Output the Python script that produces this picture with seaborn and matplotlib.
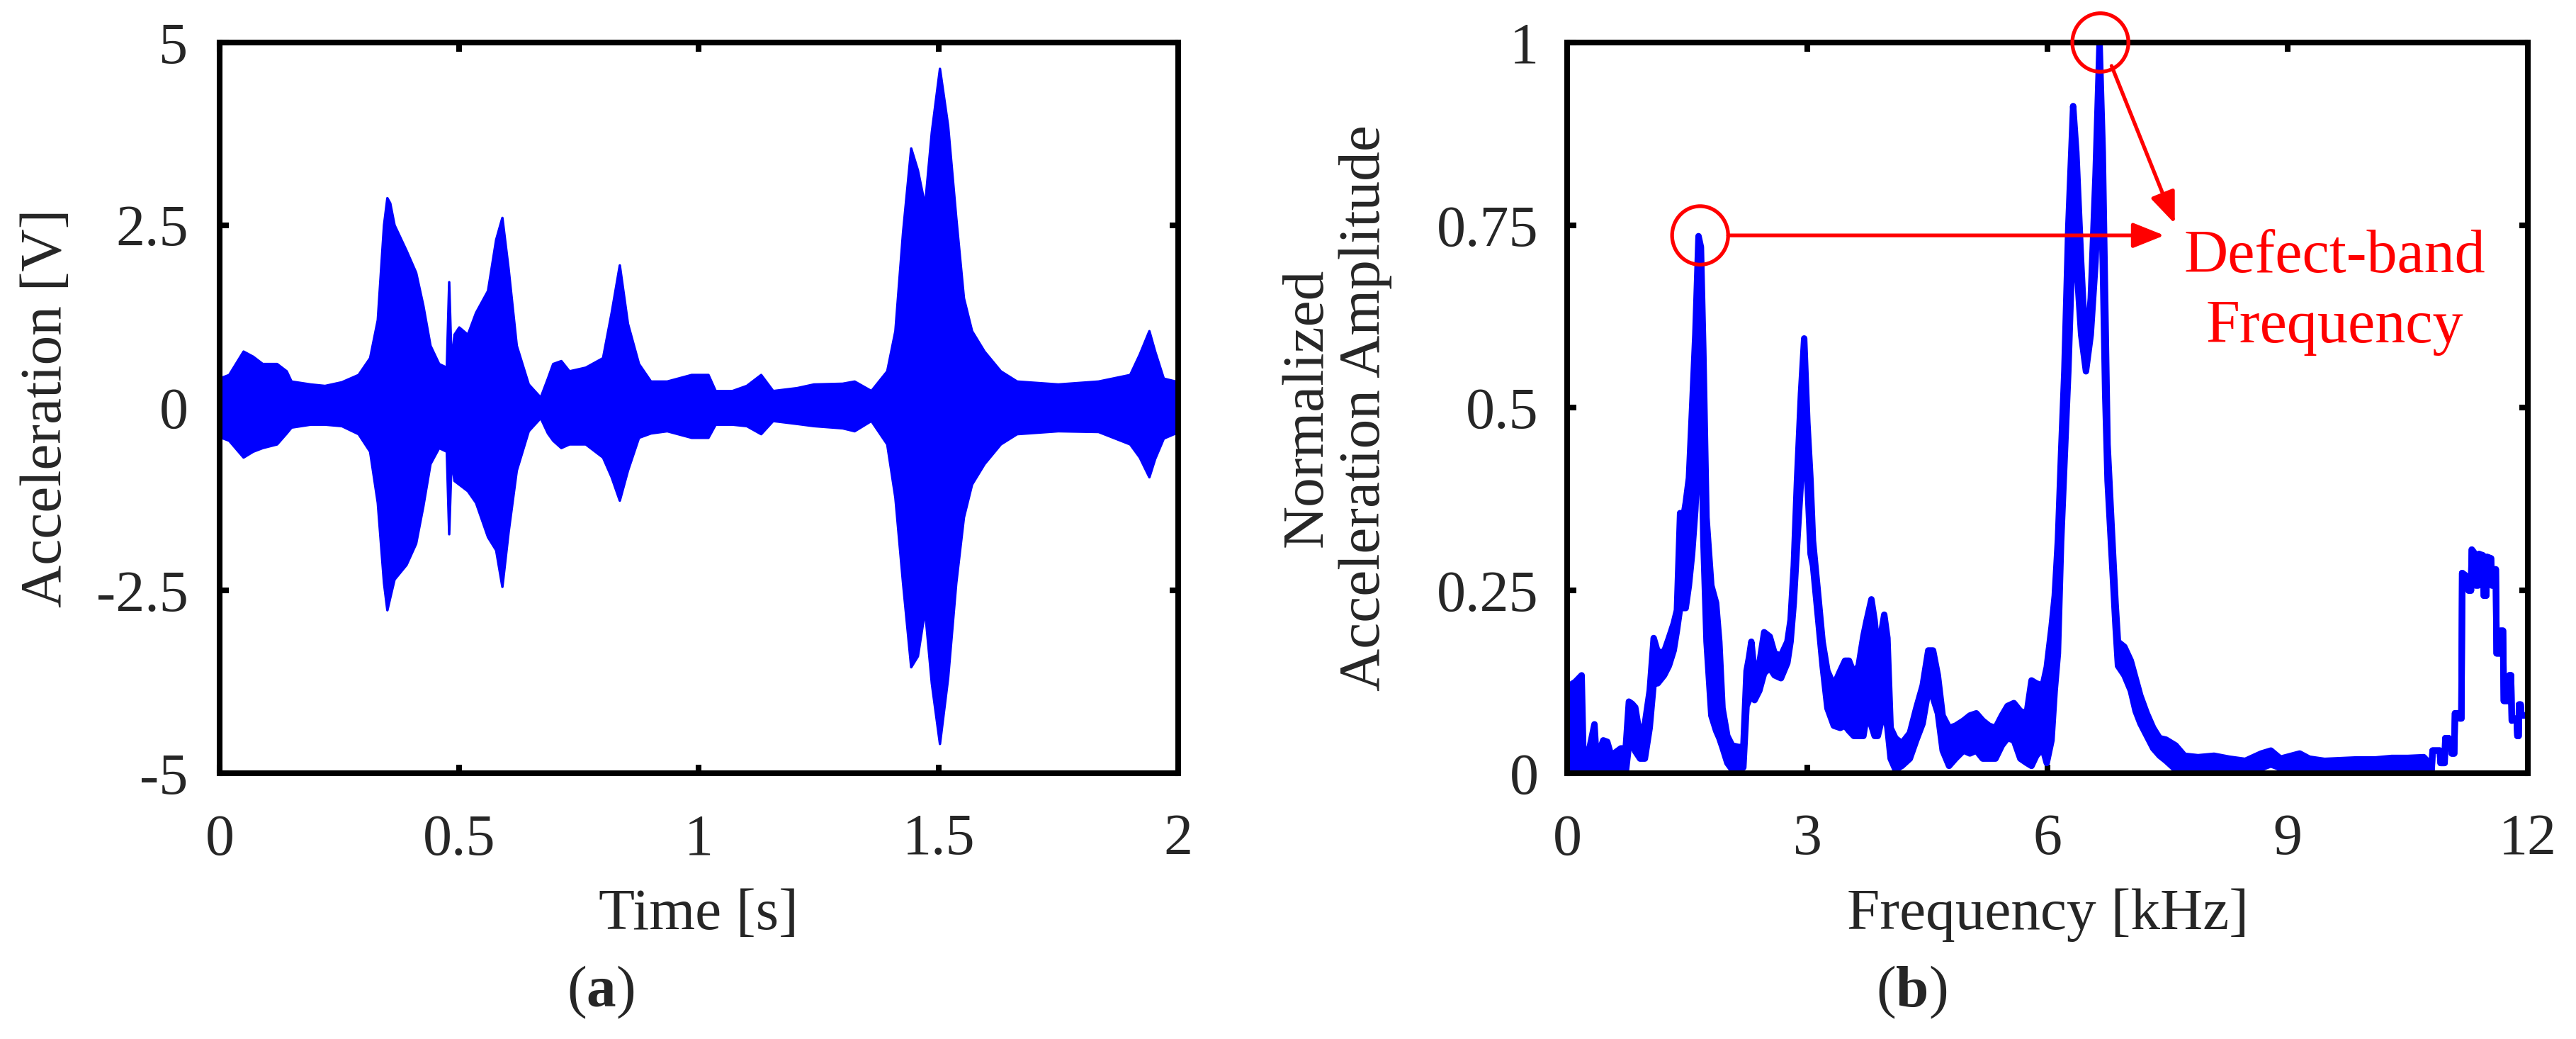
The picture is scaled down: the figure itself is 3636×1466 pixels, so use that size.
import numpy as np
import matplotlib
matplotlib.use("Agg")
import matplotlib.pyplot as plt
from matplotlib import font_manager
import seaborn as sns
from matplotlib.patches import Ellipse

# ---------------- data ----------------
# (a) vibration signal: envelope of the dense acceleration trace
time_s = [0.000, 0.02, 0.05, 0.07, 0.09, 0.12, 0.14, 0.15, 0.19, 0.22, 0.255, 0.29,
          0.314, 0.33, 0.343, 0.350, 0.356, 0.365, 0.39, 0.41, 0.425, 0.44, 0.458,
          0.474, 0.479, 0.484, 0.49, 0.50, 0.518, 0.535, 0.56, 0.577, 0.590, 0.603,
          0.62, 0.645, 0.67, 0.685, 0.696, 0.713, 0.73, 0.764, 0.80, 0.818, 0.835,
          0.852, 0.875, 0.90, 0.934, 0.985, 1.02, 1.035, 1.07, 1.10, 1.13, 1.155,
          1.205, 1.24, 1.30, 1.325, 1.36, 1.393, 1.41, 1.426, 1.443, 1.457, 1.472,
          1.486, 1.503, 1.52, 1.537, 1.553, 1.57, 1.596, 1.63, 1.664, 1.75, 1.834,
          1.90, 1.92, 1.94, 1.952, 1.97, 1.995]
accel_upper = [0.40, 0.45, 0.77, 0.70, 0.60, 0.60, 0.50, 0.36, 0.32, 0.30, 0.35, 0.45,
               0.68, 1.20, 2.50, 2.87, 2.80, 2.50, 2.15, 1.85, 1.40, 0.85, 0.60,
               0.55, 1.72, 0.60, 1.00, 1.10, 1.00, 1.30, 1.60, 2.30, 2.60, 1.90,
               0.85, 0.32, 0.14, 0.40, 0.60, 0.64, 0.50, 0.55, 0.68, 1.30, 1.95,
               1.15, 0.60, 0.36, 0.36, 0.45, 0.45, 0.23, 0.23, 0.30, 0.45, 0.23,
               0.27, 0.32, 0.33, 0.36, 0.23, 0.50, 1.05, 2.40, 3.55, 3.25, 2.77,
               3.77, 4.64, 3.86, 2.60, 1.50, 1.05, 0.77, 0.50, 0.36, 0.32, 0.36,
               0.45, 0.73, 1.05, 0.77, 0.40, 0.36]
accel_lower = [-0.40, -0.45, -0.68, -0.60, -0.55, -0.50, -0.35, -0.27, -0.23, -0.23, -0.25, -0.36,
               -0.60, -1.30, -2.40, -2.77, -2.60, -2.35, -2.15, -1.86, -1.35, -0.77, -0.55,
               -0.60, -1.73, -0.70, -1.00, -1.05, -1.14, -1.30, -1.77, -1.95, -2.45, -1.70,
               -0.86, -0.32, -0.14, -0.35, -0.45, -0.55, -0.50, -0.50, -0.68, -0.95, -1.27,
               -0.86, -0.41, -0.35, -0.32, -0.41, -0.41, -0.23, -0.23, -0.25, -0.36, -0.18,
               -0.22, -0.25, -0.28, -0.32, -0.18, -0.50, -1.23, -2.40, -3.55, -3.40, -2.77,
               -3.77, -4.60, -3.70, -2.40, -1.50, -1.05, -0.77, -0.50, -0.36, -0.32, -0.33,
               -0.50, -0.68, -0.95, -0.70, -0.42, -0.35]

# (b) normalized spectrum: upper / lower edge of the plotted trace
freq_khz = [0.00, 0.03, 0.10, 0.18, 0.20, 0.27, 0.34, 0.36, 0.40, 0.45, 0.50, 0.55,
            0.62, 0.67, 0.73, 0.77, 0.81, 0.85, 0.91, 0.97, 1.03, 1.08, 1.13, 1.21,
            1.27, 1.33, 1.37, 1.41, 1.45, 1.48, 1.52, 1.56, 1.60, 1.64, 1.67, 1.70,
            1.74, 1.80, 1.86, 1.90, 1.94, 2.00, 2.06, 2.14, 2.20, 2.24, 2.27, 2.30,
            2.34, 2.40, 2.46, 2.53, 2.59, 2.67, 2.75, 2.79, 2.83, 2.87, 2.92, 2.96,
            3.00, 3.04, 3.07, 3.13, 3.19, 3.25, 3.33, 3.41, 3.47, 3.52, 3.58, 3.64,
            3.70, 3.74, 3.80, 3.84, 3.88, 3.96, 4.00, 4.04, 4.10, 4.18, 4.28, 4.36,
            4.44, 4.51, 4.57, 4.63, 4.69, 4.77, 4.85, 4.95, 5.03, 5.11, 5.19, 5.27,
            5.35, 5.43, 5.50, 5.58, 5.66, 5.74, 5.80, 5.86, 5.94, 5.99, 6.05, 6.09,
            6.13, 6.17, 6.21, 6.26, 6.32, 6.36, 6.42, 6.48, 6.54, 6.60, 6.65, 6.69,
            6.72, 6.75, 6.80, 6.85, 6.88, 6.96, 7.04, 7.10, 7.16, 7.24, 7.32, 7.40,
            7.48, 7.60, 7.71, 7.88, 8.08, 8.27, 8.47, 8.67, 8.79, 8.91, 9.15, 9.27,
            9.46, 9.86, 10.10, 10.30, 10.50, 10.70, 10.80, 10.81, 10.90, 10.91, 10.96,
            10.97, 11.01, 11.02, 11.04, 11.05, 11.08, 11.09, 11.14, 11.15, 11.17, 11.18,
            11.24, 11.26, 11.29, 11.30, 11.34, 11.35, 11.38, 11.39, 11.44, 11.45, 11.48,
            11.49, 11.54, 11.55, 11.57, 11.58, 11.60, 11.61, 11.65, 11.66, 11.69, 11.70,
            11.76, 11.77, 11.79, 11.80, 11.86, 11.87, 11.885, 11.89, 11.91, 11.92, 11.96]
amp_upper = [0.100, 0.120, 0.125, 0.134, 0.034, 0.030, 0.067, 0.030, 0.030, 0.045, 0.043, 0.024,
             0.030, 0.034, 0.034, 0.098, 0.095, 0.090, 0.050, 0.068, 0.113, 0.185, 0.166, 0.166,
             0.185, 0.205, 0.223, 0.356, 0.350, 0.370, 0.404, 0.500, 0.600, 0.735, 0.720, 0.580,
             0.350, 0.257, 0.233, 0.180, 0.089, 0.051, 0.038, 0.036, 0.036, 0.140, 0.158, 0.180,
             0.137, 0.150, 0.193, 0.187, 0.164, 0.161, 0.180, 0.210, 0.284, 0.400, 0.520, 0.595,
             0.480, 0.400, 0.318, 0.250, 0.180, 0.140, 0.120, 0.140, 0.154, 0.154, 0.137, 0.147,
             0.188, 0.209, 0.238, 0.209, 0.164, 0.217, 0.185, 0.062, 0.048, 0.041, 0.055, 0.089,
             0.120, 0.168, 0.168, 0.134, 0.079, 0.062, 0.065, 0.072, 0.079, 0.082, 0.072, 0.065,
             0.062, 0.079, 0.092, 0.096, 0.085, 0.082, 0.127, 0.123, 0.120, 0.145, 0.200, 0.243,
             0.320, 0.440, 0.550, 0.750, 0.913, 0.850, 0.700, 0.570, 0.650, 0.820, 1.000, 0.850,
             0.650, 0.450, 0.340, 0.233, 0.180, 0.173, 0.154, 0.130, 0.106, 0.082, 0.062, 0.048,
             0.046, 0.038, 0.024, 0.022, 0.024, 0.020, 0.017, 0.027, 0.031, 0.020, 0.027, 0.020,
             0.017, 0.019, 0.019, 0.021, 0.021, 0.022, 0.010, 0.031, 0.031, 0.014, 0.014,
             0.048, 0.048, 0.038, 0.038, 0.027, 0.027, 0.082, 0.082, 0.075, 0.075, 0.274,
             0.269, 0.250, 0.250, 0.306, 0.300, 0.257, 0.257, 0.300, 0.298, 0.243, 0.243,
             0.296, 0.294, 0.257, 0.257, 0.279, 0.279, 0.164, 0.164, 0.195, 0.195, 0.099,
             0.099, 0.134, 0.134, 0.072, 0.075, 0.051, 0.051, 0.094, 0.094, 0.079, 0.079]
amp_lower = [0.000, 0.000, 0.000, 0.000, 0.000, 0.000, 0.000, 0.000, 0.000, 0.000, 0.000, 0.000,
             0.000, 0.000, 0.000, 0.038, 0.040, 0.030, 0.020, 0.020, 0.062, 0.123, 0.123, 0.134,
             0.147, 0.168, 0.195, 0.226, 0.226, 0.226, 0.257, 0.300, 0.360, 0.450, 0.500, 0.320,
             0.180, 0.079, 0.058, 0.048, 0.035, 0.014, 0.005, 0.005, 0.008, 0.092, 0.100, 0.140,
             0.100, 0.113, 0.137, 0.144, 0.134, 0.130, 0.151, 0.180, 0.233, 0.310, 0.400, 0.500,
             0.400, 0.300, 0.284, 0.216, 0.147, 0.089, 0.065, 0.062, 0.065, 0.058, 0.051, 0.051,
             0.051, 0.079, 0.065, 0.051, 0.051, 0.089, 0.062, 0.020, 0.005, 0.010, 0.020, 0.045,
             0.068, 0.113, 0.103, 0.082, 0.031, 0.010, 0.020, 0.031, 0.027, 0.031, 0.020, 0.020,
             0.020, 0.038, 0.048, 0.045, 0.020, 0.014, 0.010, 0.024, 0.034, 0.014, 0.045, 0.113,
             0.164, 0.317, 0.420, 0.550, 0.750, 0.700, 0.600, 0.550, 0.600, 0.700, 0.850, 0.700,
             0.520, 0.400, 0.300, 0.200, 0.147, 0.134, 0.113, 0.085, 0.068, 0.051, 0.034, 0.024,
             0.017, 0.005, 0.005, 0.007, 0.007, 0.007, 0.007, 0.007, 0.012, 0.007, 0.007, 0.007,
             0.007, 0.005, 0.005, 0.005, 0.005, 0.005, 0.005, 0.031, 0.031, 0.014, 0.014,
             0.048, 0.048, 0.038, 0.038, 0.027, 0.027, 0.082, 0.082, 0.075, 0.075, 0.274,
             0.269, 0.250, 0.250, 0.306, 0.300, 0.257, 0.257, 0.300, 0.298, 0.243, 0.243,
             0.296, 0.294, 0.257, 0.257, 0.279, 0.279, 0.164, 0.164, 0.195, 0.195, 0.099,
             0.099, 0.134, 0.134, 0.072, 0.075, 0.051, 0.051, 0.094, 0.094, 0.079, 0.079]

time_ticks = [0, 0.5, 1, 1.5, 2]
time_ticklabels = ["0", "0.5", "1", "1.5", "2"]
accel_ticks = [-5, -2.5, 0, 2.5, 5]
accel_ticklabels = ["-5", "-2.5", "0", "2.5", "5"]
freq_ticks = [0, 3, 6, 9, 12]
freq_ticklabels = ["0", "3", "6", "9", "12"]
amp_ticks = [0, 0.25, 0.5, 0.75, 1]
amp_ticklabels = ["0", "0.25", "0.5", "0.75", "1"]

# annotated peaks (kHz, amplitude)
peak_small = (1.66, 0.736)
peak_main = (6.66, 1.0)

# ---------------- style ----------------
sns.set_theme(style="ticks")
# make sure the serif family really exists (raises otherwise)
font_manager.findfont(font_manager.FontProperties(family="Liberation Serif"),
                      fallback_to_default=False)
plt.rcParams["font.family"] = ["Liberation Serif", "DejaVu Serif"]
plt.rcParams["axes.unicode_minus"] = False
plt.rcParams["mathtext.fontset"] = "custom"
plt.rcParams["mathtext.rm"] = "Liberation Serif"
plt.rcParams["mathtext.bf"] = "Liberation Serif:bold"

FS = 60
TXT = "#262626"
BLUE = "#0000FF"
RED = "#FF0000"

fig = plt.figure(figsize=(36.36, 14.66), dpi=100)
axL = fig.add_axes([0.08526, 0.2558, 0.3721, 0.7033])
axR = fig.add_axes([0.6084, 0.2558, 0.3729, 0.7033])

# ---------------- (a) ----------------
axL.fill_between(time_s, accel_lower, accel_upper, color=BLUE, lw=0)
sns.lineplot(x=time_s, y=accel_upper, ax=axL, color=BLUE, lw=2.5,
             estimator=None, sort=False)
sns.lineplot(x=time_s, y=accel_lower, ax=axL, color=BLUE, lw=2.5,
             estimator=None, sort=False)
axL.set_xlim(0, 2)
axL.set_ylim(-5, 5)
axL.set_xticks(time_ticks, time_ticklabels)
axL.set_yticks(accel_ticks, accel_ticklabels)
axL.set_xlabel("Time [s]", fontsize=FS, color=TXT, va="top")
axL.xaxis.set_label_coords(0.5, -0.158)
axL.set_ylabel("Acceleration [V]", fontsize=FS, color=TXT, va="center")
axL.yaxis.set_label_coords(-0.180, 0.5)

# ---------------- (b) ----------------
axR.fill_between(freq_khz, amp_lower, amp_upper, color=BLUE, lw=0)
sns.lineplot(x=freq_khz, y=amp_upper, ax=axR, color=BLUE, lw=6.5,
             estimator=None, sort=False)
sns.lineplot(x=freq_khz, y=amp_lower, ax=axR, color=BLUE, lw=6.5,
             estimator=None, sort=False)
axR.set_xlim(0, 12)
axR.set_ylim(0, 1)
axR.set_xticks(freq_ticks, freq_ticklabels)
axR.set_yticks(amp_ticks, amp_ticklabels)
axR.set_xlabel("Frequency [kHz]", fontsize=FS, color=TXT, va="top")
axR.xaxis.set_label_coords(0.5, -0.158)
axR.set_ylabel("Normalized\nAcceleration Amplitude", fontsize=FS, color=TXT,
               va="center", linespacing=1.1)
axR.yaxis.set_label_coords(-0.240, 0.5)

# annotations
for (cx, cy) in (peak_small, peak_main):
    axR.add_patch(Ellipse((cx, cy), width=0.70, height=0.080, fill=False,
                          edgecolor=RED, lw=3.8, clip_on=False, zorder=5))
arrow_style = dict(arrowstyle="-|>,head_length=0.45,head_width=0.18", color=RED,
                   lw=3.8, shrinkA=0, shrinkB=0, mutation_scale=60)
axR.annotate("", xy=(7.46, peak_small[1]), xytext=(peak_small[0] + 0.35, peak_small[1]),
             arrowprops=arrow_style, annotation_clip=False)
axR.annotate("", xy=(7.59, 0.752), xytext=(6.80, 0.968),
             arrowprops=arrow_style, annotation_clip=False)
axR.text(9.59, 0.686, "Defect-band", color=RED, fontsize=62, ha="center", va="baseline")
axR.text(9.59, 0.590, "Frequency", color=RED, fontsize=62, ha="center", va="baseline")

# common axis styling (MATLAB-like box, inward ticks)
for ax in (axL, axR):
    for sp in ax.spines.values():
        sp.set_visible(True)
        sp.set_linewidth(5.8)
        sp.set_color("black")
    ax.tick_params(axis="both", which="major", direction="in", length=9, width=5.8,
                   top=True, right=True, labelsize=59, labelcolor=TXT, color="black")
    ax.tick_params(axis="x", pad=41)
axL.tick_params(axis="y", pad=32)
axR.tick_params(axis="y", pad=29)

fig.text(0.2332, 0.045, r"($\mathbf{a}$)", fontsize=FS, color=TXT, ha="center", va="center")
fig.text(0.7420, 0.045, r"($\mathbf{b}$)", fontsize=FS, color=TXT, ha="center", va="center")

fig.savefig("out.png", dpi=100, facecolor="white")
